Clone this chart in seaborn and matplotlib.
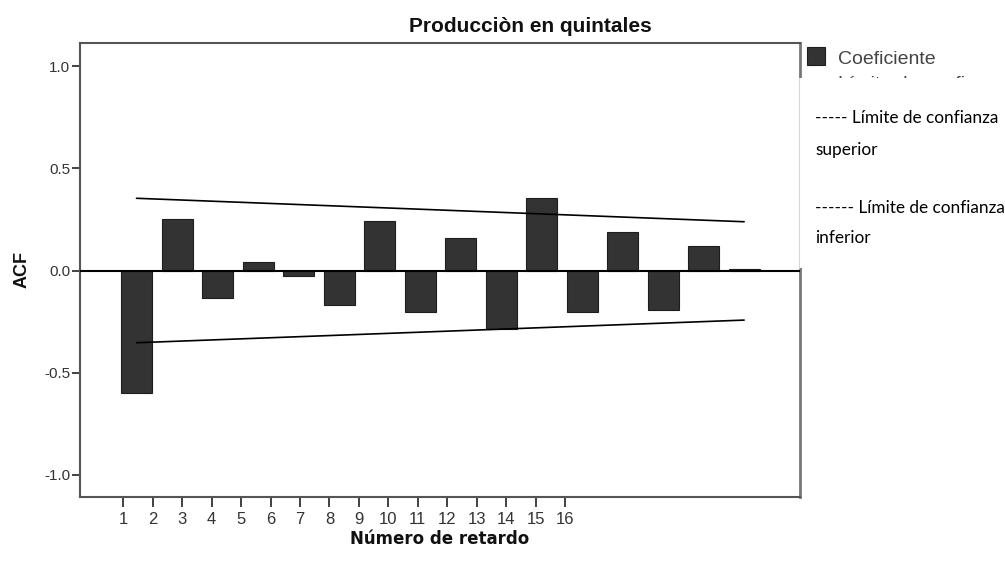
import matplotlib
matplotlib.use("Agg")
import matplotlib.pyplot as plt
from matplotlib import font_manager
from matplotlib.patches import Rectangle
from matplotlib.lines import Line2D
import pandas as pd
import seaborn as sns

# Autocorrelation coefficients by lag
lags = list(range(1, 17))
acf = [-0.602, 0.252, -0.133, 0.043, -0.027, -0.168, 0.243, -0.205,
       0.161, -0.287, 0.354, -0.202, 0.187, -0.192, 0.119, 0.009]

# Confidence limits (straight lines from first to last lag)
limit_lags = [1, 16]
upper_limit = [0.354, 0.239]
lower_limit = [-0.354, -0.243]

x_tick_labels = [str(k) for k in lags]
y_ticks = [-1.0, -0.5, 0.0, 0.5, 1.0]
y_tick_labels = ["-1.0", "-0.5", "0.0", "0.5", "1.0"]

title_text = "Producciòn en quintales"
x_label = "Número de retardo"
y_label = "ACF"
legend_bar = "Coeficiente"
legend_hidden = "Límite de confianza superior"
legend_upper = ["----- Límite de confianza", "superior"]
legend_lower = ["------ Límite de confianza", "inferior"]

sns.set_style("white")
installed = {f.name for f in font_manager.fontManager.ttflist}
sans = "Liberation Sans" if "Liberation Sans" in installed else "DejaVu Sans"
narrow = "Liberation Sans Narrow" if "Liberation Sans Narrow" in installed else sans
note_font = "Lato" if "Lato" in installed else sans
plt.rcParams["font.family"] = [sans, "DejaVu Sans"]

W, H = 1005, 563
fig = plt.figure(figsize=(W / 100, H / 100), dpi=100)


def fx(px):
    return px / W


def fy(py):
    return 1 - py / H


left, right, top, bottom = 80, 800, 43, 497
ax = fig.add_axes([fx(left), fy(bottom), fx(right) - fx(left), fy(top) - fy(bottom)])
ax.set_facecolor("white")

# Lag ticks axis
ax.set_xlim(-0.47, 23.98)
ax.set_ylim(-1.11, 1.115)
ax.set_xticks(lags)
ax.set_xticklabels(x_tick_labels, fontfamily=[narrow, sans], fontsize=12, color="#333333")
ax.set_yticks(y_ticks)
ax.set_yticklabels(y_tick_labels, fontsize=11, color="#333333")
ax.tick_params(axis="x", which="major", direction="out", length=7, width=1.3,
               color="#333333", bottom=True, labelbottom=True, pad=4)
ax.tick_params(axis="y", which="major", direction="out", length=6, width=1.3,
               color="#333333", left=True, pad=1)
for side, sp in ax.spines.items():
    sp.set_visible(True)
    sp.set_color("#555555")
    sp.set_linewidth(1.5)
ax.spines["right"].set_color("#777777")
ax.spines["right"].set_linewidth(2.0)

ax.set_xlabel(x_label, fontsize=12, fontweight="bold", color="#111111",
              fontfamily=["DejaVu Sans"])
ax.xaxis.set_label_coords((440 - left) / (right - left), (bottom - 539) / (bottom - top))
ax.xaxis.label.set_va("center")
ax.set_ylabel(y_label, fontsize=13, fontweight="bold", color="#111111")
ax.yaxis.set_label_coords((22 - left) / (right - left), (bottom - 270) / (bottom - top))
ax.yaxis.label.set_va("center")

# Bars on their own horizontal scale
ax2 = ax.twiny()
df = pd.DataFrame({"lag": lags, "acf": acf})
sns.barplot(data=df, x="lag", y="acf", native_scale=True, width=0.765,
            color="#333333", saturation=1, edgecolor="#1e1e1e", linewidth=0.8,
            ax=ax2, zorder=2)
lim_df = pd.DataFrame({"lag": limit_lags, "upper": upper_limit, "lower": lower_limit})
sns.lineplot(data=lim_df, x="lag", y="upper", color="black", linewidth=1.2, ax=ax2, zorder=3)
sns.lineplot(data=lim_df, x="lag", y="lower", color="black", linewidth=1.2, ax=ax2, zorder=3)
ax2.axhline(0, color="black", linewidth=1.5, zorder=4)
ax2.set_xlim(-0.395, 17.38)
ax2.set_ylim(-1.11, 1.115)
ax2.set_xticks([])
ax2.set_xlabel("")
ax2.set_ylabel("")
ax2.tick_params(top=False, labeltop=False)
for sp in ax2.spines.values():
    sp.set_visible(False)

# Title
fig.text(fx(530), fy(26), title_text, ha="center", va="center",
         fontsize=15, fontweight="bold", color="#111111", fontfamily=[narrow, sans])

# Legend entry for bars
fig.add_artist(Rectangle((fx(807), fy(65)), fx(825) - fx(807), fy(47) - fy(65),
                         transform=fig.transFigure, facecolor="#333333",
                         edgecolor="#1e1e1e", linewidth=0.8, zorder=4))
fig.text(fx(838), fy(59), legend_bar, ha="left", va="center", fontsize=14,
         color="#444444", zorder=4)
fig.text(fx(838), fy(76), legend_hidden, ha="left", va="top",
         fontsize=14, color="#444444", zorder=4)

# Text box laid over the right side
fig.add_artist(Rectangle((fx(799), fy(268)), 1 - fx(799), fy(78) - fy(268),
                         transform=fig.transFigure, facecolor="white",
                         edgecolor="none", zorder=5))
fig.add_artist(Line2D([fx(799), fx(799)], [fy(78), fy(268)], transform=fig.transFigure,
                      color="#d6d6d6", linewidth=0.8, zorder=6))

note_kw = dict(ha="left", va="center", fontsize=12.4, color="black",
               fontfamily=[note_font, sans], zorder=7)
fig.text(fx(815), fy(118), legend_upper[0], **note_kw)
fig.text(fx(815), fy(150), legend_upper[1], **note_kw)
fig.text(fx(815), fy(208), legend_lower[0], **note_kw)
fig.text(fx(815), fy(238), legend_lower[1], **note_kw)

fig.savefig("out.png", dpi=100, facecolor="white")
